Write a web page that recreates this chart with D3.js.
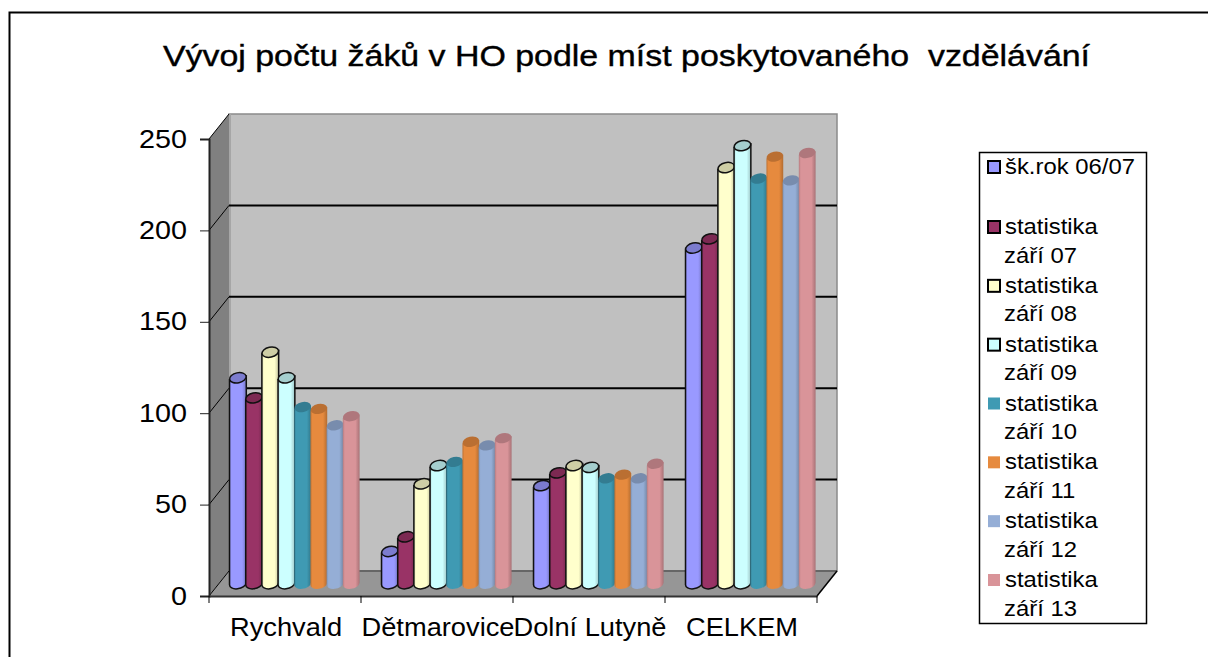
<!DOCTYPE html>
<html>
<head>
<meta charset="utf-8">
<script src="https://cdn.jsdelivr.net/npm/d3@7"></script>
<style>
    html, body { margin: 0; padding: 0; background: #fff; overflow: hidden; }
    text { font-family: "Liberation Sans", Arial, sans-serif; fill: #000; }
</style>
</head>
<body>
<div id="chart"></div>
<script>
const WIDTH = 1208;
const HEIGHT = 657;

const TITLE = 'Vývoj počtu žáků v HO podle míst poskytovaného  vzdělávání';
const categories = ['Rychvald', 'Dětmarovice', 'Dolní Lutyně', 'CELKEM'];
const seriesNames = [
    ['šk.rok 06/07'],
    ['statistika', 'září 07'],
    ['statistika', 'září 08'],
    ['statistika', 'září 09'],
    ['statistika', 'září 10'],
    ['statistika', 'září 11'],
    ['statistika', 'září 12'],
    ['statistika', 'září 13']
];
const s0607 = [115, 20, 56, 186];
const s07 = [104, 28, 63, 191];
const s08 = [129, 57, 67, 230];
const s09 = [115, 67, 66, 242];
const s10 = [99, 69, 60, 224];
const s11 = [98, 80, 62, 236];
const s12 = [89, 78, 60, 223];
const s13 = [94, 82, 68, 238];
const seriesValues = [s0607, s07, s08, s09, s10, s11, s12, s13];
const yTicks = [0, 50, 100, 150, 200, 250];

const seriesColors = ['#9999ff', '#993366', '#ffffcc', '#ccffff', '#3f9ab3', '#e68a3e', '#95aed6', '#d99499'];
const outlined = [true, true, true, true, false, false, false, false];

// 3D box: front edge of the floor and how far the back wall is shifted
const plot = { left: 209, right: 817, bottom: 596, top: 139, dx: 20, dy: -25 };

// The reference image is stretched sideways, so the text is too
function stretch(selection, k) {
    selection
        .attr('textLength', function () {
            return this.getComputedTextLength() * k;
        })
        .attr('lengthAdjust', 'spacingAndGlyphs');
}

const svg = d3.select('#chart').append('svg').attr('width', WIDTH).attr('height', HEIGHT);

const xScale = d3.scaleBand().domain(categories).range([plot.left, plot.right]);
const yScale = d3.scaleLinear().domain([0, 250]).range([plot.bottom, plot.top]);
// Bars stand in the middle of the box depth, so they get their own baseline
const barY = d3.scaleLinear().domain([0, 250]).range([588, 131]);
const inner = d3.scaleBand().domain(d3.range(8)).range([20.5, 150]);

// Chart frame, cropped on the right and the bottom
svg.append('path')
    .attr('d', `M9.5,${HEIGHT}V12.5H${WIDTH}`)
    .attr('fill', 'none')
    .attr('stroke', '#000')
    .attr('stroke-width', 2);

svg.append('text')
    .attr('x', 626.5)
    .attr('y', 66)
    .attr('text-anchor', 'middle')
    .attr('font-size', 30)
    .attr('stroke', '#000')
    .attr('stroke-width', 0.4)
    .style('white-space', 'pre')
    .text(TITLE)
    .call(stretch, 1.13);

// Walls and floor
const poly = (pts) => 'M' + pts.map((p) => p.join(',')).join('L') + 'Z';
const { left: pLeft, right: pRight, bottom: pBottom, top: pTop, dx, dy } = plot;

svg.append('path')
    .attr('d', poly([[pLeft + dx, pTop + dy], [pRight + dx, pTop + dy], [pRight + dx, pBottom + dy], [pLeft + dx, pBottom + dy]]))
    .attr('fill', '#c0c0c0')
    .attr('stroke', '#8a8a8a')
    .attr('stroke-width', 1.5);
svg.append('path')
    .attr('d', poly([[pLeft, pTop], [pLeft + dx, pTop + dy], [pLeft + dx, pBottom + dy], [pLeft, pBottom]]))
    .attr('fill', '#808080');
svg.append('path')
    .attr('d', poly([[pLeft, pBottom], [pRight, pBottom], [pRight + dx, pBottom + dy], [pLeft + dx, pBottom + dy]]))
    .attr('fill', '#969696');
svg.append('line')
    .attr('x1', pLeft + dx).attr('x2', pRight + dx)
    .attr('y1', pBottom + dy).attr('y2', pBottom + dy)
    .attr('stroke', '#666').attr('stroke-width', 2);
svg.append('line')
    .attr('x1', pRight).attr('x2', pRight + dx)
    .attr('y1', pBottom).attr('y2', pBottom + dy)
    .attr('stroke', '#000').attr('stroke-width', 1.5);
// Lighter strip where the side wall meets the back wall
svg.append('line')
    .attr('x1', pLeft + dx + 1).attr('x2', pLeft + dx + 1)
    .attr('y1', pTop + dy).attr('y2', pBottom + dy)
    .attr('stroke', '#a6a6a6').attr('stroke-width', 2);

// Grid on the back wall and its continuation on the side wall
const gridTicks = yTicks.slice(1, -1);
svg.append('g').selectAll('line').data(gridTicks).enter().append('line')
    .attr('x1', pLeft + dx)
    .attr('x2', pRight + dx)
    .attr('y1', (d) => yScale(d) + dy)
    .attr('y2', (d) => yScale(d) + dy)
    .attr('stroke', '#000')
    .attr('stroke-width', 2);
svg.append('g').selectAll('line').data(yTicks).enter().append('line')
    .attr('x1', pLeft)
    .attr('x2', pLeft + dx)
    .attr('y1', (d) => yScale(d))
    .attr('y2', (d) => yScale(d) + dy)
    .attr('stroke', '#000')
    .attr('stroke-width', 1);

// Axes
const yAxis = svg.append('g')
    .attr('transform', `translate(${pLeft},0)`)
    .call(d3.axisLeft(yScale).tickValues(yTicks).tickSize(9).tickPadding(13));
yAxis.selectAll('text').attr('font-size', 25).attr('font-family', null).call(stretch, 1.15);
yAxis.selectAll('line,path').attr('stroke', '#222');
yAxis.select('.domain').attr('stroke-width', 2);

const xAxis = svg.append('g')
    .attr('transform', `translate(0,${pBottom})`)
    .call(d3.axisBottom(xScale).tickSize(0).tickPadding(22));
xAxis.selectAll('text').attr('font-size', 25).attr('font-family', null).attr('dx', 1).call(stretch, 1.09);
xAxis.select('.domain').attr('stroke', '#333').attr('stroke-width', 2);
xAxis.selectAll('.sep').data(d3.range(5)).enter().append('line')
    .attr('class', 'sep')
    .attr('x1', (i) => pLeft + i * xScale.bandwidth())
    .attr('x2', (i) => pLeft + i * xScale.bandwidth())
    .attr('y2', 7)
    .attr('stroke', '#000');

// Gradients for the cylinders
const defs = svg.append('defs');
seriesColors.forEach((color, i) => {
    const c = d3.color(color);
    const g = defs.append('linearGradient').attr('id', `cyl${i}`);
    g.append('stop').attr('offset', '0%').attr('stop-color', c.darker(0.5));
    g.append('stop').attr('offset', '12%').attr('stop-color', color);
    g.append('stop').attr('offset', '75%').attr('stop-color', color);
    g.append('stop').attr('offset', '100%').attr('stop-color', c.darker(0.7));
});

// Bars, drawn left to right inside each category
const barW = inner.bandwidth() + 0.6;
const rx = barW / 2;
const ry = 5;
const tilt = -12;
categories.forEach((cat, ci) => {
    const group = svg.append('g').attr('class', 'category');
    seriesValues.forEach((values, si) => {
        const x0 = xScale(cat) + inner(si);
        const yTop = barY(values[ci]);
        // The round foot of the cylinder reaches down to the baseline
        const yBase = barY(0) - 3.5;
        const stroke = outlined[si] ? '#111' : 'none';
        const rise = rx * Math.tan(-tilt * Math.PI / 180);
        const bar = group.append('g');
        bar.append('path')
            .attr('d', `M${x0},${yTop + rise}V${yBase}`
                + `A${rx},${ry} ${tilt} 0 0 ${x0 + barW},${yBase - rise}`
                + `V${yTop - rise}Z`)
            .attr('fill', `url(#cyl${si})`)
            .attr('stroke', stroke)
            .attr('stroke-width', 1.5);
        bar.append('ellipse')
            .attr('cx', x0 + rx)
            .attr('cy', yTop)
            .attr('rx', rx)
            .attr('ry', ry)
            .attr('transform', `rotate(${tilt} ${x0 + rx} ${yTop})`)
            .attr('fill', d3.color(seriesColors[si]).darker(0.6))
            .attr('stroke', stroke)
            .attr('stroke-width', 1.5);
    });
});

// Legend
const legend = svg.append('g');
legend.append('rect')
    .attr('x', 979.5).attr('y', 152.5).attr('width', 167).attr('height', 471)
    .attr('fill', '#fff').attr('stroke', '#000').attr('stroke-width', 1.5);

const legendY = d3.scalePoint().domain(d3.range(1, 8)).range([227, 580]);
const items = legend.selectAll('.item').data(seriesNames).enter().append('g')
    .attr('class', 'item')
    .attr('transform', (d, i) => `translate(0,${i === 0 ? 167 : legendY(i)})`);
items.append('rect')
    .attr('x', 988).attr('y', -6).attr('width', 12).attr('height', 12)
    .attr('fill', (d, i) => seriesColors[i])
    .attr('stroke', (d, i) => (outlined[i] ? '#000' : 'none'))
    .attr('stroke-width', 2);
items.each(function (lines) {
    d3.select(this).selectAll('text').data(lines).enter().append('text')
        .attr('x', (d, i) => (i === 0 ? 1005 : 1004))
        .attr('y', (d, i) => 7 + i * 28.5)
        .attr('font-size', 22.5)
        .text((d) => d)
        .call(stretch, 1.06);
});
</script>
</body>
</html>
